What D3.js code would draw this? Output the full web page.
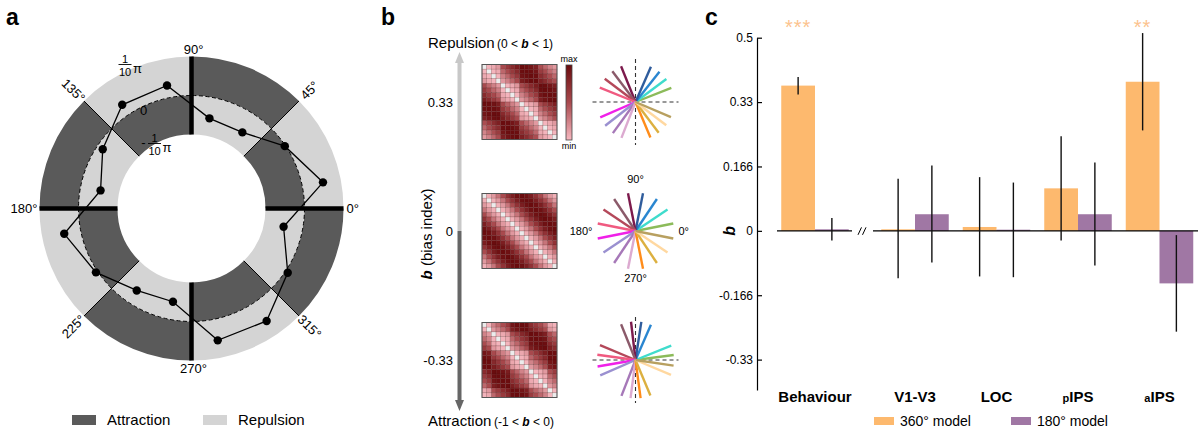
<!DOCTYPE html>
<html>
<head>
<meta charset="utf-8">
<script src="https://cdn.jsdelivr.net/npm/d3@7"></script>
<style>
  body { margin: 0; background: #fff; }
  svg { display: block; font-family: "Liberation Sans", Arial, sans-serif; }
</style>
</head>
<body>
<svg width="1198" height="430"></svg>
<script>
// ---- panel a data: behavioural bias at 16 orientations (bias in units of pi) ----
let orientDeg = [11.25, 33.75, 56.25, 78.75, 101.25, 123.75, 146.25, 168.75,
                 191.25, 213.75, 236.25, 258.75, 281.25, 303.75, 326.25, 348.75];
let behaviourBias = [0.054, -0.002, -0.055, -0.054, 0.032, 0.030, -0.016, -0.052,
                     0.043, 0.005, -0.037, -0.046, 0.055, 0.057, 0.007, -0.049];
let sectorStart = [0, 45, 90, 135, 180, 225, 270, 315];
let outerKind = ["rep", "att", "rep", "att", "rep", "att", "rep", "att"];

// ---- panel b data: orientation of each coloured line per bias level ----
let fanColors = ["#8cbb5a", "#3fdccc", "#2a86d0", "#2f5c9c", "#7c1a4c", "#8b5a6a", "#b4485a", "#f05a80",
                 "#f020e8", "#9a90d0", "#a678b8", "#dcaad0", "#ff8c1a", "#dcb040", "#ffd8a0", "#b8a060"];
let repulsionDeg = [21.4, 36.7, 51.5, 66.4, 112, 127, 143, 158, 203.6, 218, 234, 248.6, 292.8, 307, 323, 337];
let neutralDeg = [11.25, 33.75, 56.25, 78.75, 101.25, 123.75, 146.25, 168.75,
                  191.25, 213.75, 236.25, 258.75, 281.25, 303.75, 326.25, 348.75];
let attractionDeg = [7.4, 21.9, 66.4, 81.3, 96.7, 112, 157.3, 172.2, 189.8, 203.6, 248.6, 262.6, 277.6, 292.8, 337.2, 351.6];
let biasLevels = ["0.33", "0", "-0.33"];

// ---- panel c data ----
let regions = ["Behaviour", "V1-V3", "LOC", "pIPS", "aIPS"];
let model360 = [0.376, 0.004, 0.010, 0.110, 0.386];
let model360Lo = [0.353, -0.123, -0.118, -0.025, 0.260];
let model360Hi = [0.398, 0.135, 0.139, 0.245, 0.512];
let model180 = [0.004, 0.043, 0.003, 0.043, -0.136];
let model180Lo = [-0.025, -0.082, -0.120, -0.090, -0.261];
let model180Hi = [0.033, 0.169, 0.125, 0.177, -0.011];
let stars = ["***", "", "", "", "**"];
let yTicks = [0.5, 1 / 3, 1 / 6, 0, -1 / 6, -1 / 3];
let yTickLabels = ["0.5", "0.33", "0.166", "0", "-0.166", "-0.33"];

let darkGray = "#5a5a5a", lightGray = "#d4d4d4";
let orange = "#fdb96e", purple = "#a077a4";

let svg = d3.select("svg");
let rad = d => d * Math.PI / 180;

// panel letters
svg.selectAll("text.panel")
  .data([["a", 6], ["b", 381], ["c", 705]])
  .enter().append("text")
  .attr("x", d => d[1]).attr("y", 25)
  .attr("font-size", 23).attr("font-weight", "bold")
  .text(d => d[0]);

// ================= panel a =================
let ga = svg.append("g").attr("transform", "translate(191.5,208.5)");
let r = d3.scaleLinear().domain([-0.1, 0.1]).range([74, 152]);

let arc = d3.arc();
sectorStart.forEach((s, i) => {
  let a0 = rad(90 - s - 45), a1 = rad(90 - s);
  ga.append("path")
    .attr("d", arc({innerRadius: r(0), outerRadius: r(0.1), startAngle: a0, endAngle: a1}))
    .attr("fill", outerKind[i] === "att" ? darkGray : lightGray);
  ga.append("path")
    .attr("d", arc({innerRadius: r(-0.1), outerRadius: r(0), startAngle: a0, endAngle: a1}))
    .attr("fill", outerKind[i] === "att" ? lightGray : darkGray);
});

// zero circle
ga.append("circle").attr("r", r(0))
  .attr("fill", "none").attr("stroke", "#000").attr("stroke-width", 1)
  .attr("stroke-dasharray", "4,2.5");

// divider lines
sectorStart.forEach(s => {
  let c = Math.cos(rad(s)), sn = -Math.sin(rad(s));
  let thick = s % 90 === 0;
  ga.append("line")
    .attr("x1", r(-0.1) * c).attr("y1", r(-0.1) * sn)
    .attr("x2", r(0.1) * c).attr("y2", r(0.1) * sn)
    .attr("stroke", "#000").attr("stroke-width", thick ? 4.5 : 1);
});

// bias line + dots
let pts = orientDeg.map((a, i) => [r(behaviourBias[i]) * Math.cos(rad(a)), -r(behaviourBias[i]) * Math.sin(rad(a))]);
ga.append("path")
  .attr("d", d3.line().curve(d3.curveLinearClosed)(pts))
  .attr("fill", "none").attr("stroke", "#000").attr("stroke-width", 1.3);
ga.selectAll("circle.dot").data(pts).enter().append("circle")
  .attr("cx", d => d[0]).attr("cy", d => d[1]).attr("r", 4.2).attr("fill", "#000");

// angle labels
ga.append("text").attr("x", 2).attr("y", -155).attr("text-anchor", "middle").attr("font-size", 13).text("90°");
ga.append("text").attr("x", 2).attr("y", 164).attr("text-anchor", "middle").attr("font-size", 13).text("270°");
ga.append("text").attr("x", 155).attr("y", 0).attr("dy", "0.35em").attr("font-size", 13).text("0°");
ga.append("text").attr("x", -154).attr("y", 0).attr("dy", "0.35em").attr("text-anchor", "end").attr("font-size", 13).text("180°");
[45, 135, 225, 315].forEach(a => {
  let x = 167 * Math.cos(rad(a)), y = -167 * Math.sin(rad(a));
  let rot = (a === 45 || a === 225) ? -45 : 45;
  ga.append("text")
    .attr("transform", `translate(${x},${y}) rotate(${rot})`)
    .attr("text-anchor", "middle").attr("dy", "0.35em").attr("font-size", 13)
    .text(a + "°");
});

// radial labels (fractions of pi)
function fracLabel(cx, top, minus) {
  let g = svg.append("g");
  if (minus) g.append("text").attr("x", cx - 11).attr("y", top + 11).attr("text-anchor", "middle").attr("font-size", 13).text("-");
  g.append("text").attr("x", cx).attr("y", top + 6).attr("text-anchor", "middle").attr("font-size", 11).text("1");
  g.append("line").attr("x1", cx - 6.5).attr("x2", cx + 6.5).attr("y1", top + 7.5).attr("y2", top + 7.5)
    .attr("stroke", "#000").attr("stroke-width", 0.9);
  g.append("text").attr("x", cx).attr("y", top + 18.5).attr("text-anchor", "middle").attr("font-size", 11).text("10");
  g.append("text").attr("x", cx + 8).attr("y", top + 15.5).attr("font-size", 13).text("π");
}
fracLabel(125, 57, false);
svg.append("text").attr("x", 143.5).attr("y", 115).attr("text-anchor", "middle").attr("font-size", 13).text("0");
fracLabel(154.5, 136, true);

// legend a
let legA = [["Attraction", darkGray, 72], ["Repulsion", lightGray, 203]];
legA.forEach(d => {
  svg.append("rect").attr("x", d[2]).attr("y", 415).attr("width", 24).attr("height", 10).attr("fill", d[1]);
  svg.append("text").attr("x", d[2] + 35).attr("y", 420).attr("dy", "0.35em").attr("font-size", 15).text(d[0]);
});

// ================= panel b =================
let arrowX = 459.5;
svg.append("line").attr("x1", arrowX).attr("x2", arrowX).attr("y1", 61).attr("y2", 231)
  .attr("stroke", "#c8c8c8").attr("stroke-width", 4);
svg.append("polygon").attr("points", `${arrowX},52 ${arrowX - 4.5},63 ${arrowX + 4.5},63`).attr("fill", "#c8c8c8");
svg.append("line").attr("x1", arrowX).attr("x2", arrowX).attr("y1", 231).attr("y2", 401)
  .attr("stroke", "#666").attr("stroke-width", 4);
svg.append("polygon").attr("points", `${arrowX},411 ${arrowX - 4.5},400 ${arrowX + 4.5},400`).attr("fill", "#666");

function rangeLabel(y, word, lo, hi) {
  let t = svg.append("text").attr("x", 428).attr("y", y).attr("dy", "0.35em").attr("font-size", 15);
  t.append("tspan").text(word);
  t.append("tspan").attr("x", word === "Repulsion" ? 497 : 494).attr("font-size", 12).text(`(${lo} < `);
  t.append("tspan").attr("font-size", 12).attr("font-weight", "bold").attr("font-style", "italic").text("b");
  t.append("tspan").attr("font-size", 12).text(` < ${hi})`);
}
rangeLabel(43, "Repulsion", "0", "1");
rangeLabel(421, "Attraction", "-1", "0");

let yb = d3.scaleOrdinal().domain(biasLevels).range([102, 231, 360]);
biasLevels.forEach(l => {
  svg.append("text").attr("x", 453).attr("y", yb(l)).attr("dy", "0.35em")
    .attr("text-anchor", "end").attr("font-size", 13).text(l);
});
let bt = svg.append("text").attr("transform", "translate(432,234) rotate(-90)")
  .attr("text-anchor", "middle").attr("font-size", 15);
bt.append("tspan").attr("font-weight", "bold").attr("font-style", "italic").text("b");
bt.append("tspan").text(" (bias index)");

// matrices: cosine distance between the biased orientations
let matColor = d3.scaleLinear().domain([0, 0.5, 1]).range(["#f7b8c0", "#a94a4e", "#6a0c0e"]);
let fans = [repulsionDeg, neutralDeg, attractionDeg];
let cell = d3.scaleBand().domain(d3.range(16)).range([0, 75]);
fans.forEach((angles, k) => {
  let cy = yb(biasLevels[k]);
  let gm = svg.append("g").attr("transform", `translate(482,${cy - 37.5})`);
  let cells = [];
  angles.forEach((a, i) => angles.forEach((b, j) => {
    cells.push({i, j, d: (1 - Math.cos(rad(a - b))) / 2});
  }));
  gm.selectAll("rect").data(cells).enter().append("rect")
    .attr("x", d => cell(d.j)).attr("y", d => cell(d.i))
    .attr("width", cell.bandwidth()).attr("height", cell.bandwidth())
    .attr("fill", d => d.i === d.j ? "#ececec" : matColor(d.d))
    .attr("stroke", "#4a1414").attr("stroke-opacity", 0.35).attr("stroke-width", 0.5);
  gm.append("rect").attr("width", 75).attr("height", 75)
    .attr("fill", "none").attr("stroke", "#555").attr("stroke-width", 1);

  // fan of orientation lines
  let gf = svg.append("g").attr("transform", `translate(635.5,${cy})`);
  if (k !== 1) {
    gf.append("line").attr("x1", -43).attr("x2", 43).attr("stroke", "#333")
      .attr("stroke-width", 1.1).attr("stroke-dasharray", "4,3");
    gf.append("line").attr("y1", -43).attr("y2", 43).attr("stroke", "#333")
      .attr("stroke-width", 1.1).attr("stroke-dasharray", "4,3");
  }
  gf.selectAll("line.ray").data(angles).enter().append("line")
    .attr("x2", a => 38.5 * Math.cos(rad(a)))
    .attr("y2", a => -38.5 * Math.sin(rad(a)))
    .attr("stroke", (a, i) => fanColors[i]).attr("stroke-width", 2.4);
  if (k === 1) {
    gf.append("text").attr("y", -48).attr("text-anchor", "middle").attr("font-size", 11).text("90°");
    gf.append("text").attr("y", 47).attr("dy", "0.35em").attr("text-anchor", "middle").attr("font-size", 11).text("270°");
    gf.append("text").attr("x", 43).attr("dy", "0.35em").attr("font-size", 11).text("0°");
    gf.append("text").attr("x", -43).attr("dy", "0.35em").attr("text-anchor", "end").attr("font-size", 11).text("180°");
  }
});

// colour bar
let grad = svg.append("defs").append("linearGradient").attr("id", "cbar")
  .attr("x1", 0).attr("x2", 0).attr("y1", 0).attr("y2", 1);
[1, 0.5, 0].forEach((v, i) => grad.append("stop").attr("offset", (i * 50) + "%").attr("stop-color", matColor(v)));
svg.append("rect").attr("x", 566).attr("y", 65).attr("width", 6).attr("height", 75)
  .attr("fill", "url(#cbar)").attr("stroke", "#444").attr("stroke-width", 0.8);
svg.append("text").attr("x", 569).attr("y", 62).attr("text-anchor", "middle").attr("font-size", 9).text("max");
svg.append("text").attr("x", 569).attr("y", 149).attr("text-anchor", "middle").attr("font-size", 9).text("min");

// ================= panel c =================
let y = d3.scaleLinear().domain([-0.412, 0.5]).range([390, 37.7]);
let rois = regions.slice(1);
let x0 = d3.scaleBand().domain(rois).range([874.25, 1200.25]);
let center = c => c === "Behaviour" ? x0("V1-V3") + x0.bandwidth() / 2 - 100 : x0(c) + x0.bandwidth() / 2;
let x1 = d3.scaleBand().domain(["360", "180"]).range([-33.75, 33.75]);

let axis = d3.axisLeft(y).tickValues(yTicks)
  .tickFormat((d, i) => yTickLabels[i]).tickSizeInner(-5).tickSizeOuter(0).tickPadding(4);
let gAxis = svg.append("g").attr("transform", "translate(757,0)").call(axis);
gAxis.selectAll("text").attr("font-size", 12).attr("font-family", "Liberation Sans, Arial, sans-serif").attr("fill", "#000");
gAxis.selectAll("line, path").attr("stroke", "#000").attr("stroke-width", 1.2);

svg.append("text").attr("transform", `translate(735,${y(0)}) rotate(-90)`)
  .attr("text-anchor", "middle").attr("font-size", 16)
  .attr("font-weight", "bold").attr("font-style", "italic").text("b");

let series = [
  {key: "360", vals: model360, lo: model360Lo, hi: model360Hi, color: orange},
  {key: "180", vals: model180, lo: model180Lo, hi: model180Hi, color: purple}
];
series.forEach(s => {
  svg.selectAll(null).data(regions).enter().append("rect")
    .attr("x", c => center(c) + x1(s.key))
    .attr("width", x1.bandwidth())
    .attr("y", (c, i) => y(Math.max(0, s.vals[i])))
    .attr("height", (c, i) => Math.abs(y(s.vals[i]) - y(0)))
    .attr("fill", s.color);
});

// zero line with axis break
svg.append("line").attr("x1", 777).attr("x2", 852).attr("y1", y(0)).attr("y2", y(0))
  .attr("stroke", "#000").attr("stroke-width", 1.2);
svg.append("line").attr("x1", 873).attr("x2", 1198).attr("y1", y(0)).attr("y2", y(0))
  .attr("stroke", "#000").attr("stroke-width", 1.2);
[858, 862.5].forEach(bx => {
  svg.append("line").attr("x1", bx).attr("x2", bx + 3.5).attr("y1", y(0) + 4).attr("y2", y(0) - 3.5)
    .attr("stroke", "#000").attr("stroke-width", 1);
});

series.forEach(s => {
  svg.selectAll(null).data(regions).enter().append("line")
    .attr("x1", c => center(c) + x1(s.key) + x1.bandwidth() / 2)
    .attr("x2", c => center(c) + x1(s.key) + x1.bandwidth() / 2)
    .attr("y1", (c, i) => y(s.lo[i])).attr("y2", (c, i) => y(s.hi[i]))
    .attr("stroke", "#111").attr("stroke-width", 1.4);
});

svg.selectAll(null).data(regions).enter().append("text")
  .attr("x", c => center(c) + x1("360") + x1.bandwidth() / 2)
  .attr("y", 34).attr("text-anchor", "middle").attr("font-size", 20)
  .attr("fill", "#fcc38e").attr("letter-spacing", 1)
  .text((c, i) => stars[i]);

// category labels
let cl = svg.selectAll(null).data(regions).enter().append("text")
  .attr("x", c => center(c)).attr("y", 397).attr("dy", "0.35em")
  .attr("text-anchor", "middle").attr("font-size", 15).attr("font-weight", "bold");
cl.each(function (c) {
  let t = d3.select(this);
  if (c === "pIPS" || c === "aIPS") {
    t.append("tspan").attr("font-size", 11).text(c[0]);
    t.append("tspan").text(c.slice(1));
  } else {
    t.text(c);
  }
});

// legend c
[["360° model", orange, 874], ["180° model", purple, 1011]].forEach(d => {
  svg.append("rect").attr("x", d[2]).attr("y", 417).attr("width", 20).attr("height", 8).attr("fill", d[1]);
  svg.append("text").attr("x", d[2] + 26).attr("y", 421).attr("dy", "0.35em").attr("font-size", 14).text(d[0]);
});
</script>
</body>
</html>
